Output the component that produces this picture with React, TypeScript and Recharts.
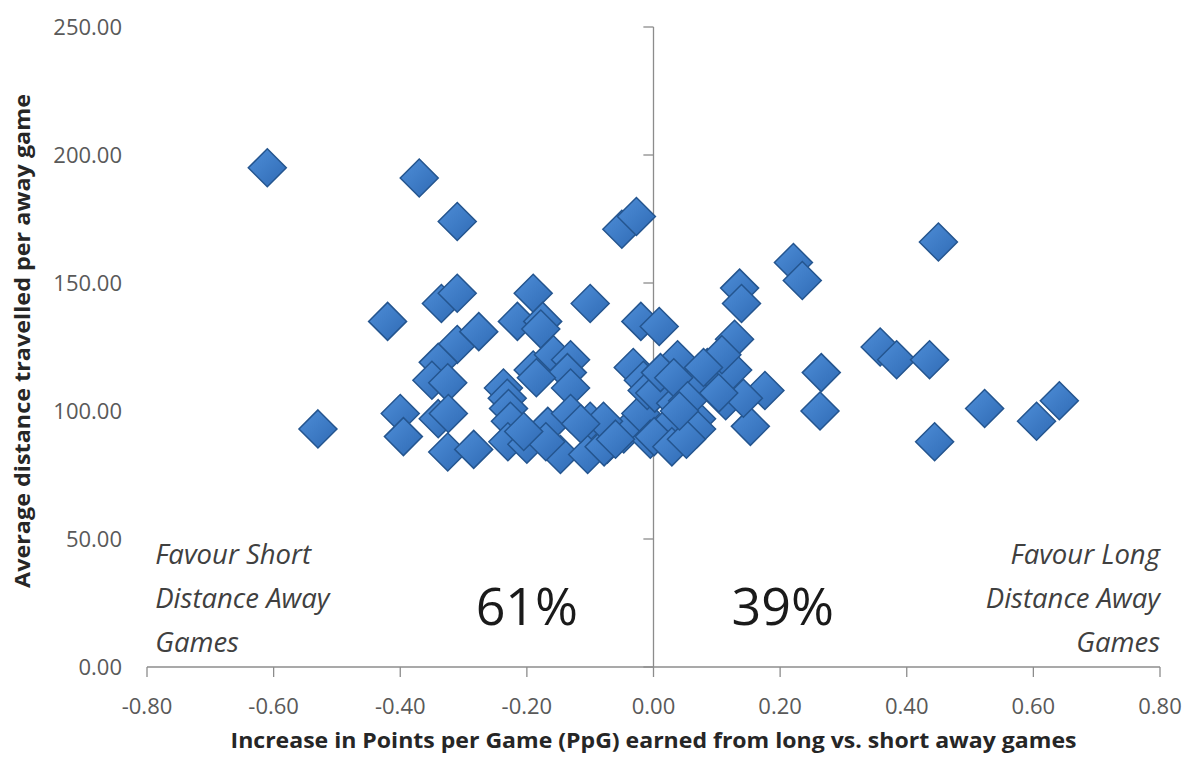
import React from "react";
import {
  ScatterChart,
  Scatter,
  XAxis,
  YAxis,
  ReferenceLine,
  ReferenceDot,
} from "recharts";

// Increase in PpG (long vs short away games)
const ppgIncrease: number[] = [
  -0.61, -0.37, -0.31, -0.05, -0.027, -0.42, -0.53, -0.335, -0.31, -0.19,
  -0.1, -0.215, -0.175, -0.178, -0.02, -0.31, -0.276, -0.34, -0.35, -0.325,
  -0.19, -0.158, -0.131, -0.136, -0.131, -0.237, -0.231, -0.229, -0.226, -0.032,
  -0.016, -0.4, -0.395, -0.34, -0.324, -0.325, -0.284, -0.23, -0.2, -0.167,
  -0.147, -0.131, -0.1, -0.104, -0.073, -0.047, -0.02, -0.005, -0.01, -0.078,
  -0.079, -0.185, -0.115, -0.17, -0.06, -0.205,
  0.45, 0.221, 0.235, 0.136, 0.139, 0.358, 0.384, 0.436, 0.265, 0.263,
  0.444, 0.523, 0.605, 0.641, 0.009, 0.128, 0.176, 0.153, 0.038, 0.085,
  0.125, 0.108, 0.114, 0.142, 0.057, 0.002, 0.035, 0.068, 0.103, 0.018,
  0.068, 0.001, 0.029, 0.052, 0.011, 0.032, 0.079, 0.054, 0.041,
];

// Average distance travelled per away game
const avgDistance: number[] = [
  195, 191, 174, 171, 176, 135, 93, 142, 146, 146,
  142, 135, 135, 132, 135, 126, 131, 119, 112, 111,
  116, 122, 120, 115, 109, 109, 105, 101, 96, 117,
  112, 99, 90, 97, 99, 84, 85, 88, 87, 94,
  83, 99, 96, 83, 87, 91, 99, 89, 108, 86,
  96, 113, 95, 88, 89, 92,
  166, 158, 151, 148, 142, 125, 120, 120, 115, 100,
  88, 101, 96, 104, 133, 128, 108, 94, 120, 117,
  116, 122, 104, 105, 109, 107, 103, 97, 107, 93,
  93, 90, 86, 89, 115, 113, 117, 104, 100,
];

const xTicks: number[] = [-0.8, -0.6, -0.4, -0.2, 0, 0.2, 0.4, 0.6, 0.8];
const yTicks: number[] = [0, 50, 100, 150, 200, 250];

const xTitle = "Increase in Points per Game (PpG) earned from long vs. short away games";
const yTitle = "Average distance travelled per away game";
const leftNote: string[] = ["Favour Short", "Distance Away", "Games"];
const rightNote: string[] = ["Favour Long", "Distance Away", "Games"];
const leftShare = "61%";
const rightShare = "39%";

const data = ppgIncrease.map((x, i) => ({ x, y: avgDistance[i] }));

const FONT = "'Open Sans', 'DejaVu Sans', sans-serif";

const Diamond = (props: any) => {
  const { cx, cy } = props;
  if (cx == null || cy == null) return null;
  const r = 19;
  return (
    <g>
      <defs>
        <linearGradient id="dgrad" x1="0" y1="0" x2="1" y2="1">
          <stop offset="0%" stopColor="#4E8ED8" />
          <stop offset="100%" stopColor="#2F6AB4" />
        </linearGradient>
      </defs>
      <polygon
        points={`${cx},${cy - r} ${cx + r},${cy} ${cx},${cy + r} ${cx - r},${cy}`}
        fill="url(#dgrad)"
        stroke="#24558F"
        strokeWidth={1.5}
      />
    </g>
  );
};

const NoteBlock = (lines: string[], anchor: "start" | "end") => (props: any) => {
  const { cx, cy } = props;
  if (cx == null || cy == null) return null;
  return (
    <text
      x={cx}
      y={cy}
      textAnchor={anchor}
      fontFamily={FONT}
      fontStyle="italic"
      fontSize={27.5}
      fill="#404040"
    >
      {lines.map((l, i) => (
        <tspan key={i} x={cx} dy={i === 0 ? 9 : 44}>
          {l}
        </tspan>
      ))}
    </text>
  );
};

const BigText = (value: string) => (props: any) => {
  const { cx, cy } = props;
  if (cx == null || cy == null) return null;
  return (
    <text
      x={cx}
      y={cy}
      dy={19}
      textAnchor="middle"
      fontFamily={FONT}
      fontSize={52}
      fill="#1a1a1a"
    >
      {value}
    </text>
  );
};

export default function App() {
  return (
    <div>
      <style>{`body { margin: 0; } .recharts-surface { overflow: visible; }`}</style>
      <ScatterChart
        width={1186}
        height={760}
        margin={{ top: 27, right: 26, bottom: 33, left: 8 }}
      >
        <XAxis
          type="number"
          dataKey="x"
          domain={[-0.8, 0.8]}
          ticks={xTicks}
          tickFormatter={(v: number) => v.toFixed(2)}
          axisLine={{ stroke: "#8C8C8C", strokeWidth: 1.3 }}
          tickLine={{ stroke: "#8C8C8C", strokeWidth: 1.3 }}
          tickSize={10}
          tickMargin={21}
          tick={{ fill: "#595959", fontSize: 22, fontFamily: FONT }}
          height={60}
          allowDataOverflow
          label={{
            content: (p: any) => {
              const vb = p.viewBox || {};
              return (
                <text
                  x={vb.x + vb.width / 2}
                  y={739}
                  textAnchor="middle"
                  dominantBaseline="central"
                  fontFamily={FONT}
                  fontWeight="bold"
                  fontSize={22}
                  textLength={846}
                  lengthAdjust="spacingAndGlyphs"
                  fill="#262626"
                >
                  {xTitle}
                </text>
              );
            },
          }}
        />
        <YAxis
          type="number"
          dataKey="y"
          domain={[0, 250]}
          ticks={yTicks}
          tickFormatter={(v: number) => v.toFixed(2)}
          axisLine={false}
          tickLine={false}
          tickSize={0}
          tickMargin={25}
          width={139}
          tick={{ fill: "#595959", fontSize: 22, fontFamily: FONT }}
          label={{
            content: (p: any) => {
              const vb = p.viewBox || {};
              const cy = vb.y + vb.height / 2 - 6;
              return (
                <text
                  x={21}
                  y={cy}
                  transform={`rotate(-90, 21, ${cy})`}
                  textAnchor="middle"
                  dominantBaseline="central"
                  fontFamily={FONT}
                  fontWeight="bold"
                  fontSize={22}
                  textLength={494}
                  lengthAdjust="spacingAndGlyphs"
                  fill="#262626"
                >
                  {yTitle}
                </text>
              );
            },
          }}
        />
        <ReferenceLine x={0} stroke="#8C8C8C" strokeWidth={1.3} />
        {yTicks.map((t) => (
          <ReferenceLine
            key={t}
            segment={[
              { x: -0.016, y: t },
              { x: 0, y: t },
            ]}
            stroke="#8C8C8C"
            strokeWidth={1.3}
          />
        ))}
        <ReferenceDot x={-0.787} y={43.7} r={0} shape={NoteBlock(leftNote, "start")} />
        <ReferenceDot x={0.8} y={43.7} r={0} shape={NoteBlock(rightNote, "end")} />
        <ReferenceDot x={-0.2} y={24} r={0} shape={BigText(leftShare)} />
        <ReferenceDot x={0.204} y={24} r={0} shape={BigText(rightShare)} />
        <Scatter data={data} shape={Diamond} isAnimationActive={false} />
      </ScatterChart>
    </div>
  );
}
